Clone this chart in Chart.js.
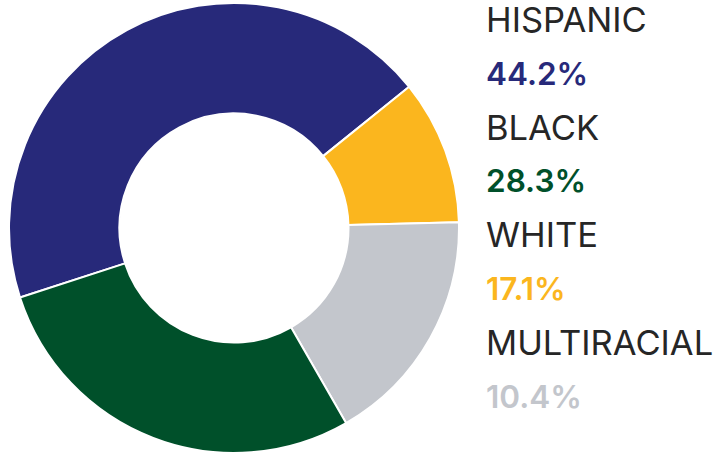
<!DOCTYPE html>
<html>
<head>
<meta charset="utf-8">
<script src="https://cdn.jsdelivr.net/npm/chart.js@4/dist/chart.umd.min.js"></script>
<style>
  html, body { margin: 0; padding: 0; background: #fff; }
  body { width: 720px; height: 454px; position: relative; overflow: hidden; }
  #wrap { position: absolute; left: 9px; top: 3px; width: 450px; height: 450px; }
  #legend { position: absolute; left: 486px; top: -7px; font-family: Inter, "Noto Sans", sans-serif; }
  #legend div { line-height: 53.8px; white-space: nowrap; }
  #legend .name { color: #262626; font-weight: 400; font-size: 34.5px; }
  #legend .pct { font-weight: 600; font-size: 31.5px; }
</style>
</head>
<body>
<div id="wrap"><canvas id="donut"></canvas></div>
<div id="legend"></div>
<script>
// legend order as printed on the right
const categories = ['HISPANIC', 'BLACK', 'WHITE', 'MULTIRACIAL'];
const shares = [44.2, 28.3, 17.1, 10.4];
const labelColors = ['#27297a', '#00502a', '#fbb61e', '#c3c6cc'];

// order and colours of the slices as drawn, clockwise from the navy one
const sliceLabels = ['HISPANIC', 'MULTIRACIAL', 'WHITE', 'BLACK'];
const sliceValues = [44.2, 10.4, 17.1, 28.3];
const sliceColors = ['#27297a', '#fbb61e', '#c3c6cc', '#00502a'];

const legend = document.getElementById('legend');
categories.forEach((name, i) => {
    const n = document.createElement('div');
    n.className = 'name';
    n.textContent = name;
    const p = document.createElement('div');
    p.className = 'pct';
    p.style.color = labelColors[i];
    p.textContent = shares[i].toFixed(1) + '%';
    legend.appendChild(n);
    legend.appendChild(p);
});

new Chart(document.getElementById('donut'), {
    type: 'doughnut',
    data: {
        labels: sliceLabels,
        datasets: [{
            data: sliceValues,
            backgroundColor: sliceColors,
            borderColor: '#ffffff',
            borderWidth: 2
        }]
    },
    options: {
        responsive: true,
        maintainAspectRatio: false,
        animation: false,
        rotation: 252,
        radius: 225,
        cutout: 114,
        layout: { padding: 0 },
        plugins: {
            legend: { display: false },
            tooltip: { enabled: false }
        }
    }
});
</script>
</body>
</html>
